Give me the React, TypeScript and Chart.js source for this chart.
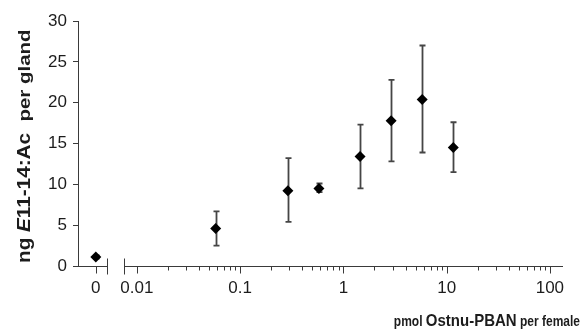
import React, { useEffect, useRef } from "react";
import { Chart, registerables } from "chart.js";

Chart.register(...registerables);

// ---- data ----
const doses = [0, 0.058, 0.29, 0.58, 1.45, 2.9, 5.8, 11.6]; // pmol Ostnu-PBAN per female
const means = [1.1, 4.6, 9.2, 9.5, 13.4, 17.8, 20.4, 14.5]; // ng E11-14:Ac per gland
const errLow = [0.9, 2.5, 5.4, 9.05, 9.5, 12.8, 13.9, 11.5];
const errHigh = [1.3, 6.7, 13.2, 10.1, 17.3, 22.8, 27.0, 17.6];
const majorTicks = [0.01, 0.1, 1, 10, 100];
const majorLabels = ["0.01", "0.1", "1", "10", "100"];
const zeroLabel = "0";
const yTicks = [0, 5, 10, 15, 20, 25, 30];

// ---- axis layout (broken log axis: dose 0 is drawn left of the break) ----
const ZERO_AT = 0.004;
const BREAK_FROM = 0.0051;
const BREAK_TO = 0.0075;
const X_MIN = 0.00269;
const X_MAX = 134;

const FONT = "Arial, 'Liberation Sans', Helvetica, sans-serif";
const AXIS_COLOR = "#3a3a3a";
const TEXT_COLOR = "#1c1c1c";

function buildXTicks() {
  const t: { value: number; label: string }[] = [{ value: ZERO_AT, label: zeroLabel }];
  majorTicks.forEach((d, i) => {
    t.push({ value: d, label: majorLabels[i] });
    if (i < majorTicks.length - 1) {
      for (let k = 2; k <= 9; k++) t.push({ value: Number((k * d).toPrecision(3)), label: "" });
    }
  });
  return t;
}

const errorBarPlugin = {
  id: "errorBars",
  beforeDatasetsDraw(chart: any) {
    const { ctx } = chart;
    const xs = chart.scales.x;
    const ys = chart.scales.y;
    ctx.save();
    ctx.strokeStyle = "#454545";
    ctx.lineWidth = 1.8;
    doses.forEach((d, i) => {
      const px = Math.round(xs.getPixelForValue(d === 0 ? ZERO_AT : d)) + 0.5;
      const top = ys.getPixelForValue(errHigh[i]);
      const bot = ys.getPixelForValue(errLow[i]);
      ctx.beginPath();
      ctx.moveTo(px, top);
      ctx.lineTo(px, bot);
      ctx.moveTo(px - 3, top);
      ctx.lineTo(px + 3, top);
      ctx.moveTo(px - 3, bot);
      ctx.lineTo(px + 3, bot);
      ctx.stroke();
    });
    ctx.restore();
  },
};

const brokenAxisPlugin = {
  id: "brokenAxis",
  afterDraw(chart: any) {
    const { ctx, chartArea } = chart;
    const xs = chart.scales.x;
    const y0 = Math.round(chartArea.bottom) + 0.5;
    const bl = Math.round(xs.getPixelForValue(BREAK_FROM)) + 0.5;
    const br = Math.round(xs.getPixelForValue(BREAK_TO)) + 0.5;
    ctx.save();
    ctx.strokeStyle = AXIS_COLOR;
    ctx.lineWidth = 1;
    ctx.beginPath();
    ctx.moveTo(chartArea.left, y0);
    ctx.lineTo(bl, y0);
    ctx.moveTo(br, y0);
    ctx.lineTo(chartArea.right, y0);
    ctx.moveTo(bl, y0 - 8);
    ctx.lineTo(bl, y0 + 8);
    ctx.moveTo(br, y0 - 8);
    ctx.lineTo(br, y0 + 8);
    xs.ticks.forEach((t: any) => {
      const px = Math.round(xs.getPixelForValue(t.value)) + 0.5;
      const len = t.label ? 7 : 4;
      ctx.moveTo(px, y0);
      ctx.lineTo(px, y0 + len);
    });
    ctx.stroke();
    ctx.restore();
  },
};

// text part: font, and a stretch along the reading direction (s) / across it (t)
type Part = { text: string; font: string; s: number; t: number };

function drawParts(ctx: CanvasRenderingContext2D, parts: Part[]) {
  let cx = 0;
  parts.forEach((p) => {
    ctx.font = p.font;
    ctx.save();
    ctx.translate(cx, 0);
    ctx.scale(p.s, p.t);
    ctx.fillText(p.text, 0, 0);
    ctx.restore();
    cx += ctx.measureText(p.text).width * p.s;
  });
}

function partsWidth(ctx: CanvasRenderingContext2D, parts: Part[]) {
  let w = 0;
  parts.forEach((p) => {
    ctx.font = p.font;
    w += ctx.measureText(p.text).width * p.s;
  });
  return w;
}

const titlesPlugin = {
  id: "richTitles",
  afterDraw(chart: any) {
    const { ctx } = chart;
    ctx.save();
    ctx.fillStyle = TEXT_COLOR;
    ctx.textBaseline = "alphabetic";
    ctx.textAlign = "left";
    // x title
    const xParts: Part[] = [
      { text: "pmol ", font: `bold 12px ${FONT}`, s: 1, t: 1.18 },
      { text: "Ostnu-PBAN", font: `bold 15px ${FONT}`, s: 1, t: 1.15 },
      { text: " per female", font: `bold 12px ${FONT}`, s: 1, t: 1.18 },
    ];
    const w = partsWidth(ctx, xParts);
    ctx.save();
    ctx.translate(580 - w, 326);
    drawParts(ctx, xParts);
    ctx.restore();
    // y title
    const yParts: Part[] = [
      { text: "ng ", font: `bold 18px ${FONT}`, s: 1.15, t: 1 },
      { text: "E", font: `italic bold 18px ${FONT}`, s: 1.15, t: 1 },
      { text: "11-14:Ac", font: `bold 18px ${FONT}`, s: 1.15, t: 1 },
      { text: "  per gland", font: `bold 16px ${FONT}`, s: 1.28, t: 1 },
    ];
    ctx.translate(30, 263);
    ctx.rotate(-Math.PI / 2);
    drawParts(ctx, yParts);
    ctx.restore();
  },
};

export default function App() {
  const ref = useRef<HTMLCanvasElement | null>(null);

  useEffect(() => {
    if (!ref.current) return;
    const chart = new Chart(ref.current, {
      type: "scatter",
      data: {
        datasets: [
          {
            data: doses.map((d, i) => ({ x: d === 0 ? ZERO_AT : d, y: means[i] })),
            pointStyle: "rectRot",
            pointRadius: 5.5,
            pointBackgroundColor: "#000",
            pointBorderColor: "#000",
            pointBorderWidth: 0,
            showLine: false,
          },
        ],
      },
      options: {
        animation: false,
        responsive: false,
        devicePixelRatio: 1,
        layout: { padding: { left: 0, top: 21, right: 19, bottom: 0 } },
        plugins: { legend: { display: false }, tooltip: { enabled: false }, title: { display: false } },
        scales: {
          x: {
            type: "logarithmic",
            min: X_MIN,
            max: X_MAX,
            afterBuildTicks: (scale: any) => {
              scale.ticks = buildXTicks().map((t) => ({ value: t.value }));
            },
            afterFit: (scale: any) => {
              scale.height = 332 - 266;
            },
            grid: { display: false, drawTicks: true, tickLength: 7 },
            border: { display: false },
            ticks: {
              autoSkip: false,
              maxRotation: 0,
              minRotation: 0,
              padding: 5,
              color: TEXT_COLOR,
              font: { family: FONT, size: 17 },
              callback: (value: any) => {
                const t = buildXTicks().find((b) => Math.abs(b.value - Number(value)) < 1e-9);
                return t ? t.label : "";
              },
            },
          },
          y: {
            type: "linear",
            min: 0,
            max: 30,
            afterBuildTicks: (scale: any) => {
              scale.ticks = yTicks.map((v) => ({ value: v }));
            },
            afterFit: (scale: any) => {
              scale.width = 78;
            },
            grid: { display: true, drawOnChartArea: false, drawTicks: true, tickLength: 5, color: AXIS_COLOR, lineWidth: 1 },
            border: { display: true, color: AXIS_COLOR, width: 1 },
            ticks: {
              padding: 6,
              color: TEXT_COLOR,
              font: { family: FONT, size: 17 },
            },
          },
        },
      },
      plugins: [errorBarPlugin, brokenAxisPlugin, titlesPlugin],
    } as any);
    return () => chart.destroy();
  }, []);

  return (
    <div style={{ position: "fixed", left: 0, top: 0, width: 582, height: 332, background: "#fff" }}>
      <canvas ref={ref} width={582} height={332} style={{ display: "block" }} />
    </div>
  );
}
